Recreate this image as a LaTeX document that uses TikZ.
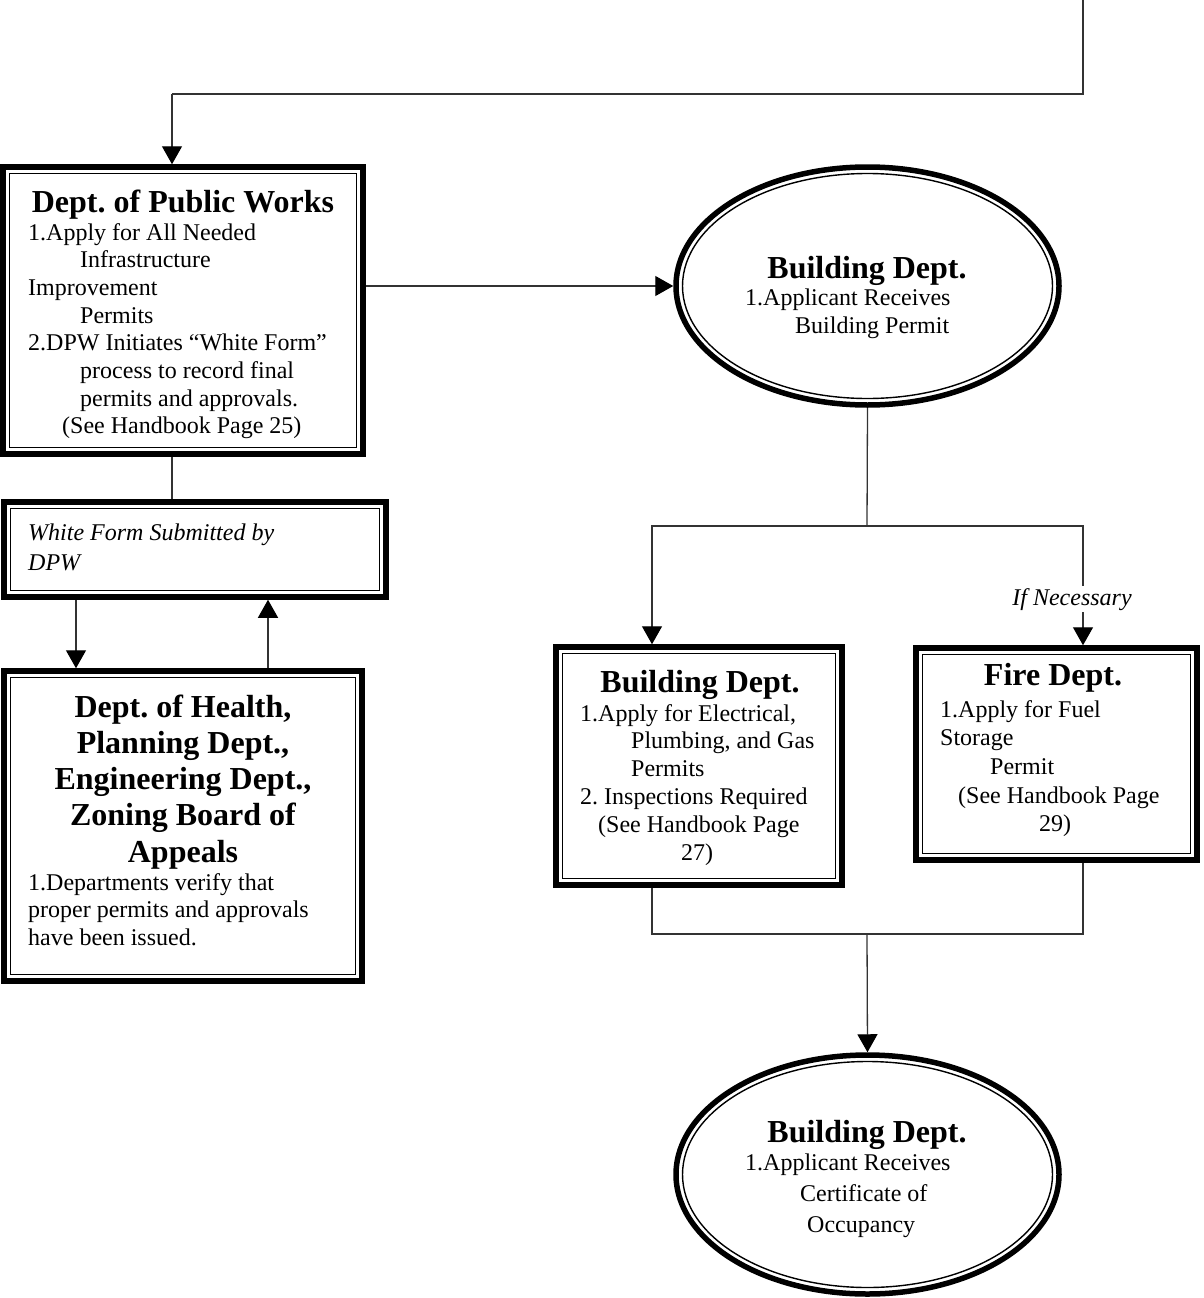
\documentclass[tikz,border=0pt]{standalone}
\usepackage{fontspec}
\setmainfont{Liberation Serif}
\usetikzlibrary{shapes.geometric,arrows.meta}
\frenchspacing
\newcommand\bodyfont{\fontsize{24}{27.7}\selectfont}
\newcommand\ttlfont{\fontsize{32}{36.5}\selectfont\bfseries}
\newcommand\txtline[1]{\hbox{#1}}
\newcommand\ctrline[1]{\hbox to 0pt{\hss#1\hss}}
\newcommand\stacked[2]{\vtop{\lineskiplimit=-100pt\baselineskip=#1pt #2}}
\begin{document}
\begin{tikzpicture}[x=1pt,y=-1pt,
  boxstyle/.style={draw, rectangle, line width=5.5pt, inner sep=0pt},
  ovalstyle/.style={draw, ellipse, line width=5.5pt, inner sep=0pt},
  innerline/.style={line width=1.4pt},
  conn/.style={line width=1.3pt, draw=black!80},
  arr/.style={conn, -{Triangle[width=20pt,length=18pt,color=black]}},
  txt/.style={inner sep=0pt, anchor=base west, font=\bodyfont},
  ttl/.style={inner sep=0pt, anchor=base, font=\ttlfont}]
\useasboundingbox (0,0) rectangle (1204,1298);

% shapes
\node[boxstyle, minimum width=360pt, minimum height=287pt] (dpw) at (183,310.5) {};
\node[boxstyle, minimum width=382pt, minimum height=95pt] (wf) at (195,549.5) {};
\node[boxstyle, minimum width=358pt, minimum height=310pt] (hl) at (183,826) {};
\node[boxstyle, minimum width=286pt, minimum height=238pt] (b2) at (699,766) {};
\node[boxstyle, minimum width=281pt, minimum height=212pt] (fire) at (1056.5,754) {};
\node[ovalstyle, minimum width=383pt, minimum height=238pt] (e1) at (867.5,286) {};
\node[ovalstyle, minimum width=383pt, minimum height=239pt] (e2) at (867.5,1174.5) {};

\foreach \n in {dpw,wf,hl,b2,fire}
  \draw[innerline] ([shift={(9.5,9.5)}]\n.north west) rectangle ([shift={(-9.5,-9.5)}]\n.south east);
\draw[innerline] (e1.center) ellipse [x radius=185pt, y radius=112.5pt];
\draw[innerline] (e2.center) ellipse [x radius=185pt, y radius=113pt];

% texts
\node[ttl] (dpwT) at (183,212) {Dept. of Public Works};
\node[txt] (dpwB) at (28,240) {\stacked{27.7}{%
  \txtline{1.Apply for All Needed}
  \txtline{\kern52pt Infrastructure}
  \txtline{Improvement}
  \txtline{\kern52pt Permits}
  \txtline{2.DPW Initiates “White Form”}
  \txtline{\kern52pt process to record final}
  \txtline{\kern52pt permits and approvals.}
  \txtline{\kern34pt (See Handbook Page 25)}}};

\node[ttl] (e1T) at (867,278) {Building Dept.};
\node[txt] (e1B) at (745,305) {\stacked{28}{%
  \txtline{1.Applicant Receives}
  \txtline{\kern50pt Building Permit}}};

\node[txt, font=\bodyfont\itshape] (wfB) at (28,540) {\stacked{30}{%
  \txtline{White Form Submitted by}
  \txtline{DPW}}};

\node[ttl] (hlT) at (183,717) {\stacked{36.3}{%
  \ctrline{Dept. of Health,}
  \ctrline{Planning Dept.,}
  \ctrline{Engineering Dept.,}
  \ctrline{Zoning Board of}
  \ctrline{Appeals}}};
\node[txt] (hlB) at (28,890) {\stacked{27.5}{%
  \txtline{1.Departments verify that}
  \txtline{proper permits and approvals}
  \txtline{have been issued.}}};

\node[ttl] (b2T) at (700,692) {Building Dept.};
\node[txt] (b2B) at (580,721) {\stacked{27.8}{%
  \txtline{1.Apply for Electrical,}
  \txtline{\kern51pt Plumbing, and Gas}
  \txtline{\kern51pt Permits}
  \txtline{2. Inspections Required}
  \txtline{\kern18pt (See Handbook Page}
  \txtline{\kern117pt\ctrline{27)}}}};

\node[ttl] (fireT) at (1053,685) {Fire Dept.};
\node[txt] (fireB) at (940,717) {\stacked{28.7}{%
  \txtline{1.Apply for Fuel}
  \txtline{Storage}
  \txtline{\kern50pt Permit}
  \txtline{\kern18pt (See Handbook Page}
  \txtline{\kern115pt\ctrline{29)}}}};

\node[ttl] (e2T) at (867,1142) {Building Dept.};
\node[txt] (e2B) at (745,1170) {\stacked{31}{%
  \txtline{1.Applicant Receives}
  \txtline{\kern55pt Certificate of}
  \txtline{\kern62pt Occupancy}}};

% connectors
\coordinate (topin) at (1083,0);
\coordinate (bend) at (172,94);
\draw[conn] (topin) |- (bend);
\draw[arr] (bend) -- (bend |- dpw.north);
\draw[arr] (dpw.east |- e1.west) -- (e1.west);
\draw[conn] (bend |- dpw.south) -- (bend |- wf.north);
\draw[arr] (76,0 |- wf.south) -- (76,0 |- hl.north);
\draw[arr] (268,0 |- hl.north) -- (268,0 |- wf.south);

\coordinate (split) at (867,526);
\draw[conn] (e1.south) -- (split);
\draw[arr] (split) -| (652,0 |- b2.north);
\draw[arr] (split) -| (1083,0 |- fire.north);
\node[inner sep=2pt, fill=white, anchor=base, font=\bodyfont\itshape] (ifn) at (1072,605) {If Necessary};

\coordinate (join) at (867,934);
\draw[conn] (652,0 |- b2.south) |- (join);
\draw[conn] (1083,0 |- fire.south) |- (join);
\draw[arr] (join) -- (e2.north);
\end{tikzpicture}
\end{document}
